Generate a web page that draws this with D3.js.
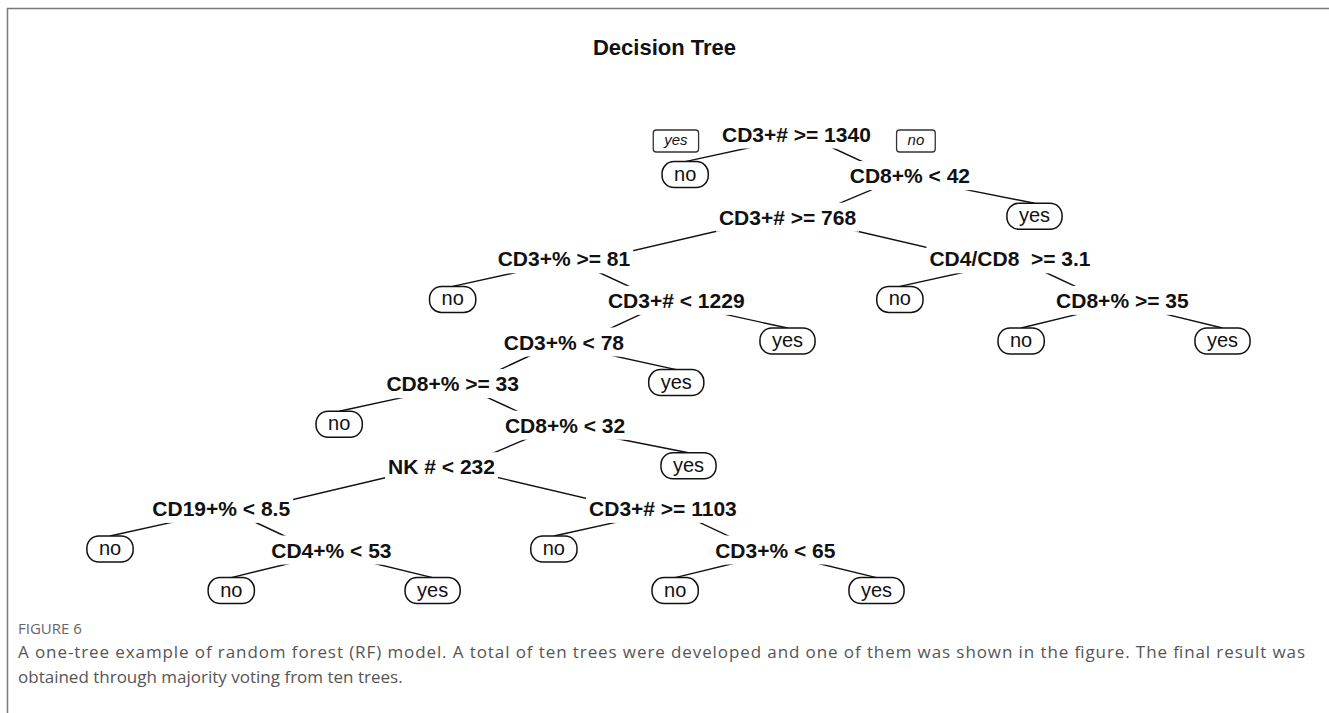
<!DOCTYPE html>
<html>
<head>
<meta charset="utf-8">
<script src="https://cdn.jsdelivr.net/npm/d3@7"></script>
<style>
  body { margin: 0; background: #fff; }
  svg { display: block; }
</style>
</head>
<body>
<svg id="chart" width="1329" height="713"></svg>
<script>
// rpart style node numbers: children of k are 2k (yes branch) and 2k+1 (no branch)
var nodeIds = [1, 2, 3, 6, 7, 12, 13, 24, 25, 26, 27, 50, 51, 54, 55,
               100, 101, 200, 201, 402, 403, 804, 805,
               1608, 1609, 1610, 1611, 3218, 3219, 3222, 3223];
var nodeLabels = ["CD3+# >= 1340", "no", "CD8+% < 42", "CD3+# >= 768", "yes",
                  "CD3+% >= 81", "CD4/CD8  >= 3.1", "no", "CD3+# < 1229", "no", "CD8+% >= 35",
                  "CD3+% < 78", "yes", "no", "yes",
                  "CD8+% >= 33", "yes", "no", "CD8+% < 32", "NK # < 232", "yes",
                  "CD19+% < 8.5", "CD3+# >= 1103",
                  "no", "CD4+% < 53", "no", "CD3+% < 65", "no", "yes", "no", "yes"];
// horizontal place of each node in tree layout units (as the tree was laid out)
var nodeX = [7.17, 6.17, 8.19, 7.09, 9.31, 5.08, 9.09, 4.08, 6.09, 8.10, 10.10,
             5.08, 7.09, 9.19, 11.00, 4.08, 6.09, 3.06, 5.09, 3.98, 6.20,
             2.00, 5.97, 1.00, 2.99, 4.99, 6.98, 2.09, 3.90, 6.08, 7.89];
var branchLabels = ["yes", "no"];
var chartTitle = "Decision Tree";
var captionHead = "FIGURE 6";
var captionLines = [
  "A one-tree example of random forest (RF) model. A total of ten trees were developed and one of them was shown in the figure. The final result was",
  "obtained through majority voting from ten trees."
];

var width = 1329, height = 713;
var svg = d3.select("#chart");
var treeFont = "'Liberation Sans', Arial, Helvetica, sans-serif";

// page frame (top and left rules)
svg.append("path")
  .attr("d", "M7.5," + height + "V8.5H" + width)
  .attr("fill", "none")
  .attr("stroke", "#7a7a7a")
  .attr("stroke-width", 1.5);

svg.append("text")
  .attr("x", width / 2)
  .attr("y", 55)
  .attr("text-anchor", "middle")
  .style("font-family", treeFont)
  .style("font-weight", "bold")
  .style("font-size", "22px")
  .attr("fill", "#111")
  .text(chartTitle);

var table = nodeIds.map(function(id, i) {
  return {id: id, label: nodeLabels[i], x: nodeX[i]};
});

var root = d3.stratify()
  .id(function(d) { return String(d.id); })
  .parentId(function(d) { return d.id === 1 ? null : String(Math.floor(d.id / 2)); })(table);

var x = d3.scaleLinear().domain([1, 11]).range([110, 1222.5]);
var y = d3.scaleLinear().domain([0, 11]).range([134, 591.6]);

var nodes = root.descendants();
nodes.forEach(function(d) {
  d.cx = x(d.data.x);
  d.cy = y(d.depth);
  d.leaf = !d.children;
  // where branch lines attach: below a split label, at the top of a leaf box
  d.ay = d.leaf ? d.cy - 14 : d.cy + 8;
});

// branches, rpart style with branch = 0.2
var branch = 0.2;
var line = d3.line();
var linkLayer = svg.append("g");
nodes.filter(function(d) { return d.children; }).forEach(function(p) {
  var kids = p.children.slice().sort(function(a, b) { return a.data.id - b.data.id; });
  var l = kids[0], r = kids[1];
  var temp = (r.cx - l.cx) * (1 - branch) / 2;
  linkLayer.append("path")
    .attr("d", line([[l.cx, l.ay], [l.cx + temp, p.ay], [r.cx - temp, p.ay], [r.cx, r.ay]]))
    .attr("fill", "none")
    .attr("stroke", "#111")
    .attr("stroke-width", 1.4);
});

var labelLayer = svg.append("g");

// split labels, on a white box that hides the branch shoulders
nodes.filter(function(d) { return !d.leaf; }).forEach(function(d) {
  var g = labelLayer.append("g");
  var bg = g.append("rect").attr("fill", "#fff");
  var t = g.append("text")
    .attr("x", d.cx)
    .attr("y", d.cy + 7.5)
    .attr("text-anchor", "middle")
    .style("font-family", treeFont)
    .style("font-weight", "bold")
    .style("font-size", "21px")
    .style("white-space", "pre")
    .attr("fill", "#111")
    .text(d.data.label);
  var w = t.node().getComputedTextLength();
  bg.attr("x", d.cx - w / 2 - 3).attr("y", d.cy - 14.5)
    .attr("width", w + 6).attr("height", 29);
});

// leaves: rounded boxes
nodes.filter(function(d) { return d.leaf; }).forEach(function(d) {
  var g = labelLayer.append("g");
  var box = g.append("rect")
    .attr("fill", "#fff")
    .attr("stroke", "#111")
    .attr("stroke-width", 1.5);
  var t = g.append("text")
    .attr("x", d.cx)
    .attr("y", d.cy + 5)
    .attr("text-anchor", "middle")
    .style("font-family", treeFont)
    .style("font-size", "20px")
    .attr("fill", "#111")
    .text(d.data.label);
  var w = t.node().getComputedTextLength() + 24;
  box.attr("x", d.cx - w / 2).attr("y", d.cy - 14)
    .attr("width", w).attr("height", 26)
    .attr("rx", 12).attr("ry", 12);
});

// yes / no tags beside the root split
branchLabels.forEach(function(lab, i) {
  var cx = root.cx + (i === 0 ? -120.5 : 119.5);
  var cy = root.cy + 7;
  var g = labelLayer.append("g");
  var box = g.append("rect")
    .attr("fill", "#fff")
    .attr("stroke", "#333")
    .attr("stroke-width", 1.3);
  var t = g.append("text")
    .attr("x", cx)
    .attr("y", cy + 4)
    .attr("text-anchor", "middle")
    .style("font-family", treeFont)
    .style("font-style", "italic")
    .style("font-size", "15px")
    .attr("fill", "#111")
    .text(lab);
  var w = t.node().getComputedTextLength() + 22;
  box.attr("x", cx - w / 2).attr("y", cy - 11)
    .attr("width", w).attr("height", 22)
    .attr("rx", 3).attr("ry", 3);
});

// caption
var capFont = "'Open Sans', 'Noto Sans', sans-serif";
svg.append("text")
  .attr("x", 18)
  .attr("y", 634)
  .style("font-family", capFont)
  .style("font-size", "15px")
  .attr("fill", "#666")
  .text(captionHead);

captionLines.forEach(function(s, i) {
  var t = svg.append("text")
    .attr("x", 18)
    .attr("y", 658 + i * 25)
    .style("font-family", capFont)
    .style("font-size", "17px")
    .attr("fill", "#555")
    .text(s);
  if (i === 0) {
    t.attr("textLength", 1287).attr("lengthAdjust", "spacing");
  }
});
</script>
</body>
</html>
